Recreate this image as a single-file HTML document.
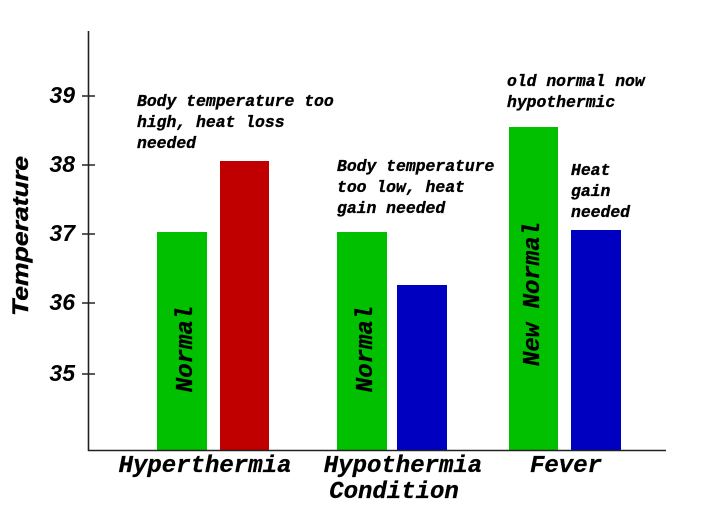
<!DOCTYPE html>
<html>
<head>
<meta charset="utf-8">
<style>
html,body{margin:0;padding:0;background:#fff;}
svg{display:block;}
.mono{font-family:"Liberation Mono",monospace;font-weight:bold;font-style:italic;fill:#000;}
.sans{font-family:"Liberation Sans",sans-serif;font-weight:bold;font-style:italic;fill:#000;}
</style>
</head>
<body>
<svg width="724" height="512" viewBox="0 0 724 512" xmlns="http://www.w3.org/2000/svg">
  <rect width="724" height="512" fill="#fff"/>
  <!-- bars -->
  <rect x="157" y="232" width="50" height="218" fill="#00c000"/>
  <rect x="220" y="161" width="49" height="289" fill="#c00000"/>
  <rect x="337" y="232" width="50" height="218" fill="#00c000"/>
  <rect x="397" y="285" width="50" height="165" fill="#0000c0"/>
  <rect x="509" y="127" width="49" height="323" fill="#00c000"/>
  <rect x="571" y="230" width="50" height="220" fill="#0000c0"/>

  <!-- axes -->
  <line x1="88.5" y1="31" x2="88.5" y2="451" stroke="#222" stroke-width="1.6"/>
  <line x1="88" y1="450.5" x2="666" y2="450.5" stroke="#222" stroke-width="1.6"/>
  <!-- ticks -->
  <g stroke="#222" stroke-width="1.5">
    <line x1="82" y1="96" x2="95" y2="96"/>
    <line x1="82" y1="165" x2="95" y2="165"/>
    <line x1="82" y1="234" x2="95" y2="234"/>
    <line x1="82" y1="303" x2="95" y2="303"/>
    <line x1="82" y1="374" x2="95" y2="374"/>
  </g>
  <g class="sans" font-size="23" text-anchor="end">
    <text x="75" y="103">39</text>
    <text x="75" y="172">38</text>
    <text x="75" y="241">37</text>
    <text x="75" y="310">36</text>
    <text x="75" y="381">35</text>
  </g>
  <text class="sans" font-size="22" text-anchor="middle" stroke="#000" stroke-width="0.4" transform="translate(28,236) rotate(-90)" textLength="160" lengthAdjust="spacingAndGlyphs">Temperature</text>

  <!-- category labels -->
  <g class="mono" font-size="24" text-anchor="middle" stroke="#000" stroke-width="0.3">
    <text x="205" y="472">Hyperthermia</text>
    <text x="403" y="472">Hypothermia</text>
    <text x="566" y="472">Fever</text>
    <text x="394" y="498">Condition</text>
  </g>

  <!-- annotations -->
  <g class="mono" font-size="16.4" stroke="#000" stroke-width="0.35">
    <text x="137" y="106">Body temperature too</text>
    <text x="137" y="127">high, heat loss</text>
    <text x="137" y="148">needed</text>

    <text x="337" y="171">Body temperature</text>
    <text x="337" y="192">too low, heat</text>
    <text x="337" y="213">gain needed</text>

    <text x="507" y="86">old normal now</text>
    <text x="507" y="107">hypothermic</text>

    <text x="571" y="175">Heat</text>
    <text x="571" y="196">gain</text>
    <text x="571" y="217">needed</text>
  </g>

  <!-- rotated bar labels -->
  <g class="mono" font-size="24" text-anchor="middle" stroke="#000" stroke-width="0.3">
    <text transform="translate(192,349) rotate(-90)">Normal</text>
    <text transform="translate(372,349) rotate(-90)">Normal</text>
    <text transform="translate(539,294) rotate(-90)">New Normal</text>
  </g>
</svg>
</body>
</html>
